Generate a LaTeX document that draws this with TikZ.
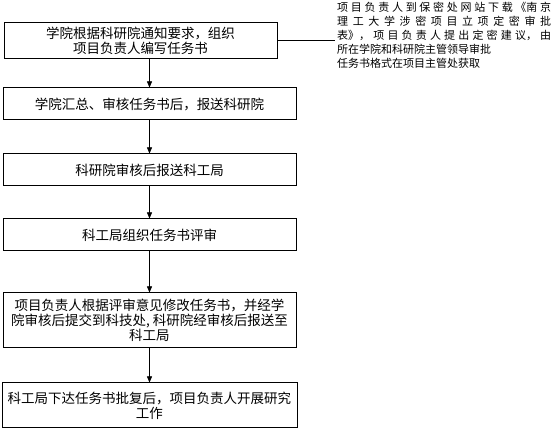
\documentclass[tikz,border=0pt]{standalone}
\usepackage{fontspec}
\newfontfamily\cjk{Noto Sans CJK SC}
\XeTeXlinebreaklocale "zh"
\XeTeXlinebreakskip=0pt plus 5pt
\usetikzlibrary{arrows.meta,positioning}

\begin{document}
\begin{tikzpicture}[x=1pt,y=1pt,node distance=33pt,>={Triangle[length=6pt,width=5pt]},
 box/.style={draw,line width=1pt,minimum width=293pt,minimum height=32pt,align=center,
  inner sep=2pt,font=\cjk\fontsize{13.5}{15}\selectfont},
 note/.style={anchor=north west,text width=214pt,align=justify,inner xsep=2pt,inner ysep=1pt,
  font=\cjk\fontsize{11}{14}\selectfont}]
\useasboundingbox (0,0) rectangle (555,430);
\node[box,minimum width=273pt,minimum height=36pt] (notify) at (140.5,389) {学院根据科研院通知要求，组织\\项目负责人编写任务书};
\node[box] (collect) at (149.5,326) {学院汇总、审核任务书后，报送科研院};
\node[box,below=of collect] (review) {科研院审核后报送科工局};
\node[box,below=32pt of review] (assess) {科工局组织任务书评审};
\node[box,below=41pt of assess,minimum height=55pt] (revise) {项目负责人根据评审意见修改任务书，并经学\\院审核后提交到科技处, 科研院经审核后报送至\\科工局};
\node[box,below=34pt of revise,minimum width=295pt,minimum height=45pt] (approve) {科工局下达任务书批复后，项目负责人开展研究\\工作};
\node[note] (secret) at (335,429) {项目负责人到保密处网站下载《南京\linebreak 理工大学涉密项目立项定密审批\linebreak 表》，项目负责人提出定密建议，由\linebreak 所在学院和科研院主管领导审批\par 任务书格式在项目主管处获取};
\draw[->] (notify.south -| collect.north) -- (collect.north);
\draw[->] (collect) -- (review); \draw[->] (review) -- (assess);
\draw[->] (assess) -- (revise); \draw[->] (revise) -- (approve);
\draw[line width=1pt] (notify.east) -- (notify.east -| secret.west);
\end{tikzpicture}
\end{document}
